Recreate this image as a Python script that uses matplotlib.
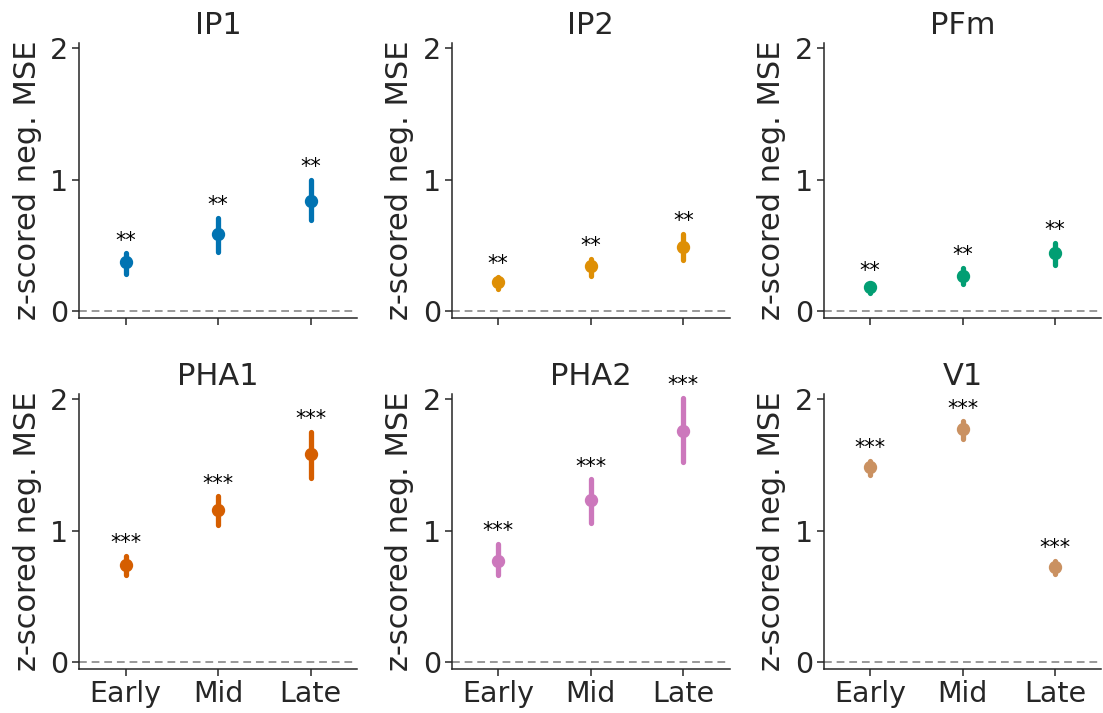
import matplotlib

matplotlib.use("Agg")
import matplotlib.pyplot as plt
import numpy as np


regions = ["IP1", "IP2", "PFm", "PHA1", "PHA2", "V1"]
stages = ["Early", "Mid", "Late"]

# mean, lower ci, upper ci per region (Early, Mid, Late)
means = {
    "IP1": [0.37, 0.59, 0.84],
    "IP2": [0.22, 0.34, 0.49],
    "PFm": [0.18, 0.27, 0.44],
    "PHA1": [0.74, 1.16, 1.58],
    "PHA2": [0.77, 1.23, 1.76],
    "V1": [1.48, 1.77, 0.72],
}
ci_low = {
    "IP1": [0.28, 0.45, 0.69],
    "IP2": [0.17, 0.27, 0.39],
    "PFm": [0.14, 0.21, 0.35],
    "PHA1": [0.66, 1.04, 1.40],
    "PHA2": [0.66, 1.06, 1.52],
    "V1": [1.42, 1.70, 0.67],
}
ci_high = {
    "IP1": [0.44, 0.71, 1.00],
    "IP2": [0.26, 0.40, 0.59],
    "PFm": [0.21, 0.33, 0.52],
    "PHA1": [0.81, 1.26, 1.75],
    "PHA2": [0.90, 1.39, 2.01],
    "V1": [1.53, 1.83, 0.77],
}
stars = {
    "IP1": ["**", "**", "**"],
    "IP2": ["**", "**", "**"],
    "PFm": ["**", "**", "**"],
    "PHA1": ["***", "***", "***"],
    "PHA2": ["***", "***", "***"],
    "V1": ["***", "***", "***"],
}

colors = ["#0173b2", "#de8f05", "#029e73", "#d55e00", "#cc78bc", "#ca9161"]
text_color = "#262626"

plt.rcParams.update({
    "font.family": "DejaVu Sans",
    "text.color": text_color,
    "axes.labelcolor": text_color,
    "axes.edgecolor": text_color,
    "xtick.color": text_color,
    "ytick.color": text_color,
    "axes.linewidth": 1.1,
    "xtick.major.size": 5,
    "ytick.major.size": 5,
    "xtick.major.width": 1.1,
    "ytick.major.width": 1.1,
})

fig = plt.figure(figsize=(11.03, 7.13), dpi=100)

lefts = [0.072, 0.4098, 0.747]
bottoms = [0.5544, 0.062]
width = 0.2516
height = 0.3857

x = np.arange(len(stages))
for i, region in enumerate(regions):
    row, col = divmod(i, 3)
    ax = fig.add_axes([lefts[col], bottoms[row], width, height])
    m = np.array(means[region])
    lo = np.array(ci_low[region])
    hi = np.array(ci_high[region])

    ax.axhline(0, color="#999999", linestyle=(0, (4, 2.5)), linewidth=1.4, zorder=1)
    ax.vlines(x, lo, hi, color=colors[i], linewidth=3.8, capstyle="round", zorder=2)
    ax.plot(x, m, "o", color=colors[i], markersize=8.6, zorder=3)
    for xi, yi, s in zip(x, hi, stars[region]):
        ax.text(xi, yi + 0.02, s, ha="center", va="bottom", fontsize=15, color="black")

    ax.set_xlim(-0.5, 2.5)
    ax.set_ylim(-0.05, 2.04)
    ax.set_yticks([0, 1, 2])
    ax.set_xticks(x)
    if row == 0:
        ax.set_xticklabels([])
    else:
        ax.set_xticklabels(stages)
    ax.tick_params(labelsize=20.5, pad=3)
    ax.set_title(region, fontsize=22, pad=6)
    ax.set_ylabel("z-scored neg. MSE", fontsize=22, labelpad=6)
    ax.spines["top"].set_visible(False)
    ax.spines["right"].set_visible(False)

fig.savefig("out.png", dpi=100)
plt.close(fig)
